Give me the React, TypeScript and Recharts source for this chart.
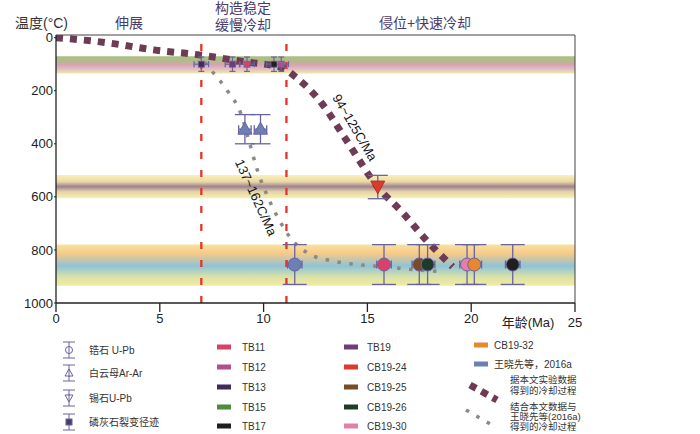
import React from 'react'
import {
  ComposedChart,
  Line,
  Scatter,
  XAxis,
  YAxis,
  ReferenceArea,
  ReferenceLine,
  ErrorBar,
} from 'recharts'

// 冷却曲线：据本文实验数据
const mainCurveAge = [0, 2.45, 4.7, 6.9, 9, 10.9, 11.6, 12.8, 13.9, 15.5, 16.7, 17.8, 19.1]
const mainCurveTemp = [0, 19, 46, 65, 90, 114, 152, 247, 376, 563, 660, 760, 863]

// 冷却曲线：结合本文数据与王晓先等(2016a)
const combCurveAge = [6.8, 7.5, 8.3, 8.9, 9.3, 9.7, 10.2, 10.7, 11.3, 12.2, 13.2, 14.5, 16, 17.5, 18.6]
const combCurveTemp = [57, 125, 205, 285, 390, 500, 600, 680, 755, 815, 840, 855, 865, 876, 882]

// 锆石 U-Pb
const zirconSample = ['王晓先等，2016a', 'TB11', 'CB19-25', 'CB19-26', 'CB19-30', 'CB19-32', 'TB17']
const zirconAge = [11.5, 15.8, 17.5, 17.9, 19.8, 20.15, 22.0]
const zirconTemp = [855, 855, 855, 855, 855, 855, 855]
const zirconTempErr = 75
const zirconAgeErr = 0.35

// 白云母 Ar-Ar
const micaSample = ['王晓先等，2016a', '王晓先等，2016a']
const micaAge = [9.1, 9.85]
const micaTemp = [345, 345]
const micaTempErr = 55
const micaAgeErr = 0.3

// 锡石 U-Pb
const cassSample = ['CB19-24']
const cassAge = [15.5]
const cassTemp = [563]
const cassTempErr = 44

// 磷灰石裂变径迹
const aftSample = ['TB13', 'TB19', 'TB11', 'TB17', 'TB12']
const aftAge = [7.0, 8.5, 9.2, 10.5, 10.85]
const aftTemp = [100, 100, 100, 100, 100]
const aftTempErr = 27
const aftAgeErr = 0.35

// 温度带
const bandTop = [70, 135]
const bandMid = [518, 605]
const bandLow = [780, 935]
// 阶段分界
const stageBounds = [7.0, 11.1]

const xTicks = [0, 5, 10, 15, 20, 25]
const yTicks = [0, 200, 400, 600, 800, 1000]

const legendTypes = ['锆石 U-Pb', '白云母Ar-Ar', '锡石U-Pb', '磷灰石裂变径迹']
const legendCol2 = ['TB11', 'TB12', 'TB13', 'TB15', 'TB17']
const legendCol3 = ['TB19', 'CB19-24', 'CB19-25', 'CB19-26', 'CB19-30']
const legendCol4 = ['CB19-32', '王晓先等，2016a']

const COLORS: Record<string, string> = {
  TB11: '#d9406a',
  TB12: '#b0508e',
  TB13: '#3e2b5c',
  TB15: '#4e8b3a',
  TB17: '#1f1f1f',
  TB19: '#6c3d78',
  'CB19-24': '#dc3a2c',
  'CB19-25': '#7a4b27',
  'CB19-26': '#1e3b2a',
  'CB19-30': '#e77ea8',
  'CB19-32': '#e8872c',
  '王晓先等，2016a': '#6d80b6',
}

const BAR = '#6b62a0'
const FONT = '"Liberation Sans", "Noto Sans CJK SC", sans-serif'

const mainCurve = mainCurveAge.map((x, i) => ({ x, y: mainCurveTemp[i] }))
const combCurve = combCurveAge.map((x, i) => ({ x, y: combCurveTemp[i] }))
const zircon = zirconAge.map((x, i) => ({
  x, y: zirconTemp[i], ex: zirconAgeErr, ey: zirconTempErr, color: COLORS[zirconSample[i]],
}))
const mica = micaAge.map((x, i) => ({
  x, y: micaTemp[i], ex: micaAgeErr, ey: micaTempErr, color: COLORS[micaSample[i]],
}))
const cass = cassAge.map((x, i) => ({ x, y: cassTemp[i], ey: cassTempErr, color: COLORS[cassSample[i]] }))
const aft = aftAge.map((x, i) => ({
  x, y: aftTemp[i], ex: aftAgeErr, ey: aftTempErr, color: COLORS[aftSample[i]],
}))

const Circle = (p: any) => <circle cx={p.cx} cy={p.cy} r={6.5} fill={p.payload.color} stroke={BAR} strokeWidth={1} />
const TriUp = (p: any) => (
  <path d={`M${p.cx},${p.cy - 7}L${p.cx + 7},${p.cy + 5}L${p.cx - 7},${p.cy + 5}Z`} fill={p.payload.color} stroke={BAR} strokeWidth={1} />
)
const TriDown = (p: any) => (
  <path d={`M${p.cx - 7},${p.cy - 6}L${p.cx + 7},${p.cy - 6}L${p.cx},${p.cy + 7}Z`} fill={p.payload.color} stroke="#b02a20" strokeWidth={0.8} />
)
const Square = (p: any) => <rect x={p.cx - 3} y={p.cy - 3} width={6} height={6} fill={p.payload.color} stroke={BAR} strokeWidth={0.8} />

function LegendIcon({ kind, cx, cy }: { kind: number; cx: number; cy: number }) {
  return (
    <g stroke={BAR} strokeWidth={1} fill="none">
      <line x1={cx} y1={cy - 8} x2={cx} y2={cy + 8} />
      <line x1={cx - 6} y1={cy - 8} x2={cx + 6} y2={cy - 8} />
      <line x1={cx - 6} y1={cy + 8} x2={cx + 6} y2={cy + 8} />
      {kind === 0 && <circle cx={cx} cy={cy} r={3.5} fill="#fff" />}
      {kind === 1 && <path d={`M${cx},${cy - 4}L${cx + 4},${cy + 3}L${cx - 4},${cy + 3}Z`} fill="#fff" />}
      {kind === 2 && <path d={`M${cx - 4},${cy - 3}L${cx + 4},${cy - 3}L${cx},${cy + 4}Z`} fill="#fff" />}
      {kind === 3 && <rect x={cx - 3} y={cy - 3} width={6} height={6} fill="#4a3b6b" />}
      {kind !== 3 && <line x1={cx} y1={cy - 4} x2={cx} y2={cy + 4} />}
    </g>
  )
}

export default function App() {
  const rowsA = [350, 373, 398, 422]
  const rowsB = [347, 367, 387, 407, 426]
  return (
    <div style={{ position: 'relative', width: 700, height: 434, fontFamily: FONT, background: '#fff' }}>
      <style>{`body{margin:0}`}</style>
      <ComposedChart
        width={700}
        height={434}
        margin={{ top: 35, right: 125, bottom: 101, left: 0 }}
        style={{ position: 'absolute', left: 0, top: 0 }}
      >
        <defs>
          <linearGradient id="gTop" x1="0" y1="0" x2="0" y2="1">
            <stop offset="0%" stopColor="#a8c184" />
            <stop offset="30%" stopColor="#b5b98c" />
            <stop offset="50%" stopColor="#d7a3b6" />
            <stop offset="75%" stopColor="#e2bfc4" />
            <stop offset="100%" stopColor="#efeaa6" />
          </linearGradient>
          <linearGradient id="gMid" x1="0" y1="0" x2="0" y2="1">
            <stop offset="0%" stopColor="#f7f2b8" />
            <stop offset="28%" stopColor="#ecd8a6" />
            <stop offset="50%" stopColor="#9c8390" />
            <stop offset="72%" stopColor="#e6d3a8" />
            <stop offset="100%" stopColor="#f6f1b2" />
          </linearGradient>
          <linearGradient id="gLow" x1="0" y1="0" x2="0" y2="1">
            <stop offset="0%" stopColor="#f8e29e" />
            <stop offset="22%" stopColor="#f6c987" />
            <stop offset="52%" stopColor="#8fc3d7" />
            <stop offset="78%" stopColor="#d9e1a8" />
            <stop offset="100%" stopColor="#f3eca0" />
          </linearGradient>
        </defs>
        <XAxis
          type="number"
          dataKey="x"
          domain={[0, 25]}
          ticks={xTicks}
          tickFormatter={(v) => (v === 25 ? '' : String(v))}
          tickSize={9}
          tickMargin={2}
          height={30}
          axisLine={{ stroke: '#222', strokeWidth: 1.3 }}
          tickLine={{ stroke: '#222', strokeWidth: 1.3 }}
          tick={{ fontSize: 13, fill: '#222', fontFamily: FONT }}
          allowDataOverflow
        />
        <YAxis
          type="number"
          dataKey="y"
          reversed
          domain={[-10, 1000]}
          ticks={yTicks}
          width={56}
          tickSize={2}
          tickMargin={1}
          axisLine={{ stroke: '#222', strokeWidth: 1.3 }}
          tickLine={{ stroke: '#222' }}
          tick={{ fontSize: 13, fill: '#222', fontFamily: FONT }}
          allowDataOverflow
        />
        <ReferenceArea y1={bandTop[0]} y2={bandTop[1]} fill="url(#gTop)" fillOpacity={1} stroke="none" />
        <ReferenceArea y1={bandMid[0]} y2={bandMid[1]} fill="url(#gMid)" fillOpacity={1} stroke="none" />
        <ReferenceArea y1={bandLow[0]} y2={bandLow[1]} fill="url(#gLow)" fillOpacity={1} stroke="none" />
        <ReferenceLine y={-10} stroke="#444" strokeWidth={1} />
        <ReferenceLine x={25} stroke="#444" strokeWidth={1} />
        {stageBounds.map((b) => (
          <ReferenceLine key={b} x={b} stroke="#e5332a" strokeWidth={2.3} strokeDasharray="7 11" />
        ))}
        <Line
          data={combCurve}
          dataKey="y"
          type="monotone"
          stroke="#8c8a80"
          strokeWidth={3.5}
          strokeDasharray="3.5 8.5"
          dot={false}
          isAnimationActive={false}
        />
        <Line
          data={mainCurve}
          dataKey="y"
          type="monotone"
          stroke="#6e3b55"
          strokeWidth={7}
          strokeDasharray="7 7"
          dot={false}
          isAnimationActive={false}
        />
        <Scatter data={aft} shape={Square} isAnimationActive={false}>
          <ErrorBar dataKey="ey" direction="y" width={3} stroke={BAR} strokeWidth={1.2} />
          <ErrorBar dataKey="ex" direction="x" width={3} stroke={BAR} strokeWidth={1.2} />
        </Scatter>
        <Scatter data={mica} shape={TriUp} isAnimationActive={false}>
          <ErrorBar dataKey="ey" direction="y" width={10} stroke={BAR} strokeWidth={1.3} />
          <ErrorBar dataKey="ex" direction="x" width={4} stroke={BAR} strokeWidth={1.3} />
        </Scatter>
        <Scatter data={cass} shape={TriDown} isAnimationActive={false}>
          <ErrorBar dataKey="ey" direction="y" width={10} stroke={BAR} strokeWidth={1.3} />
        </Scatter>
        <Scatter data={zircon} shape={Circle} isAnimationActive={false}>
          <ErrorBar dataKey="ey" direction="y" width={12} stroke={BAR} strokeWidth={1.3} />
          <ErrorBar dataKey="ex" direction="x" width={4} stroke={BAR} strokeWidth={1.3} />
        </Scatter>
      </ComposedChart>

      <svg width={700} height={434} style={{ position: 'absolute', left: 0, top: 0, pointerEvents: 'none' }} fontFamily={FONT}>
        <text x={15} y={28} fontSize={14} fill="#333">温度(°C)</text>
        <text x={129} y={28} fontSize={14} fill="#4a3b6b" textAnchor="middle">伸展</text>
        <text x={243} y={13} fontSize={14} fill="#4a3b6b" textAnchor="middle">构造稳定</text>
        <text x={243} y={30} fontSize={14} fill="#4a3b6b" textAnchor="middle">缓慢冷却</text>
        <text x={425} y={28} fontSize={14} fill="#4a3b6b" textAnchor="middle">侵位+快速冷却</text>
        <text x={528} y={327} fontSize={13} fill="#222" textAnchor="middle">年龄(Ma)</text>
        <text x={575} y={327} fontSize={13} fill="#222" textAnchor="middle">25</text>
        <text x={354} y={128} fontSize={13} fill="#111" textAnchor="middle" dominantBaseline="middle" transform="rotate(59.6 354 128)">
          94~125C/Ma
        </text>
        <text x={255} y={198} fontSize={13} fill="#111" textAnchor="middle" dominantBaseline="middle" transform="rotate(65.5 255 198)">
          137~162C/Ma
        </text>

        {legendTypes.map((t, i) => (
          <g key={t}>
            <LegendIcon kind={i} cx={69} cy={rowsA[i]} />
            <text x={89} y={rowsA[i] + 3.5} fontSize={10} fill="#333">{t}</text>
          </g>
        ))}
        {legendCol2.map((t, i) => (
          <g key={t}>
            <rect x={217} y={rowsB[i] - 2.5} width={14} height={5} fill={COLORS[t]} />
            <text x={242} y={rowsB[i] + 3.5} fontSize={10} fill="#333">{t}</text>
          </g>
        ))}
        {legendCol3.map((t, i) => (
          <g key={t}>
            <rect x={344} y={rowsB[i] - 2.5} width={14} height={5} fill={COLORS[t]} />
            <text x={367} y={rowsB[i] + 3.5} fontSize={10} fill="#333">{t}</text>
          </g>
        ))}
        {legendCol4.map((t, i) => (
          <g key={t}>
            <rect x={474} y={[345, 364][i] - 2.5} width={14} height={5} fill={COLORS[t]} />
            <text x={494} y={[345, 364][i] + 3.5} fontSize={10} fill="#333">{t}</text>
          </g>
        ))}
        <path d="M470,385 L497,400" stroke="#6e3b55" strokeWidth={7} strokeDasharray="7 6" />
        <text x={510} y={383} fontSize={9.5} fill="#333">据本文实验数据</text>
        <text x={510} y={394} fontSize={9.5} fill="#333">得到的冷却过程</text>
        <path d="M466,410 L492,425" stroke="#8c8a80" strokeWidth={3.5} strokeDasharray="3.5 8.5" />
        <text x={510} y={410} fontSize={9.5} fill="#333">结合本文数据与</text>
        <text x={510} y={420} fontSize={9.5} fill="#333">王晓先等(2016a)</text>
        <text x={510} y={430} fontSize={9.5} fill="#333">得到的冷却过程</text>
      </svg>
    </div>
  )
}
